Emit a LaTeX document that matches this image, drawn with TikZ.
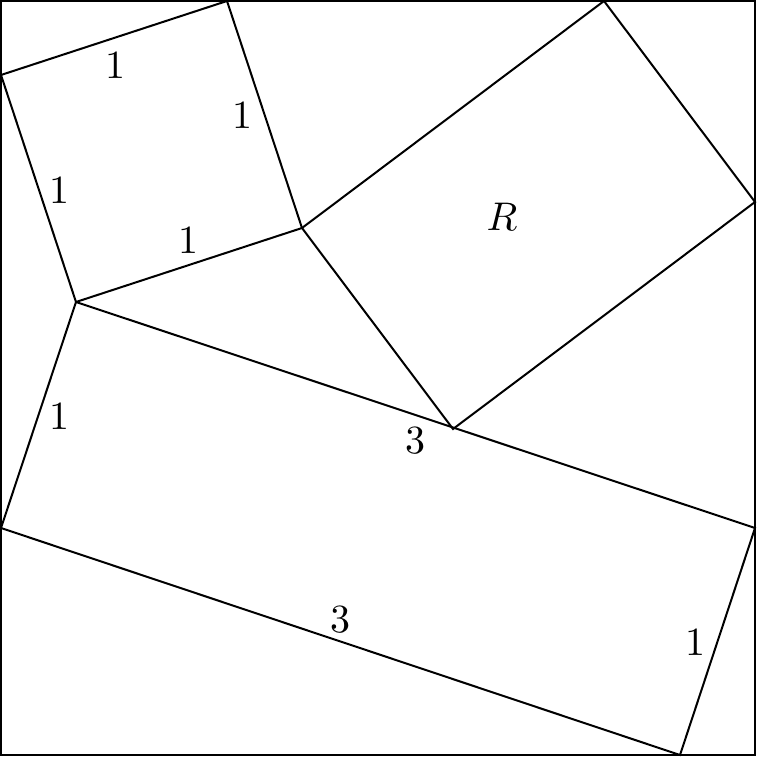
\documentclass[tikz,border=0pt]{standalone}
\begin{document}
\begin{tikzpicture}[x=0.25pt,y=-0.25pt,line width=0.5pt,
  lbl/.style={inner sep=0pt}]
\useasboundingbox (0,0) rectangle (757,757);
% outer square
\coordinate (O1) at (1,1);
\coordinate (O2) at (755,1);
\coordinate (O3) at (755,755);
\coordinate (O4) at (1,755);
% unit square
\coordinate (A) at (76,302);
\coordinate (U1) at (1,75);
\coordinate (U2) at (227,1);
\coordinate (B) at (302,228);
% square R
\coordinate (R1) at (604,1);
\coordinate (R2) at (755,202);
\coordinate (C) at (453,429);
% rectangle
\coordinate (E1) at (1,528);
\coordinate (E2) at (680,755);
\coordinate (E3) at (755,528);

\draw (O1) -- (O2) -- (O3) -- (O4) -- cycle;
\draw (A) -- (U1) -- (U2) -- (B) -- cycle;
\draw (B) -- (R1) -- (R2) -- (C) -- cycle;
\draw (A) -- (E1) -- (E2) -- (E3) -- cycle;

\node[lbl] (l1) at (115,65) {1};
\node[lbl] (l2) at (242,115) {1};
\node[lbl] (l3) at (60,190) {1};
\node[lbl] (l4) at (188,240) {1};
\node[lbl] (lR) at (502,217) {$R$};
\node[lbl] (l5) at (60,416) {1};
\node[lbl] (l6) at (415,441) {3};
\node[lbl] (l7) at (340,620) {3};
\node[lbl] (l8) at (695,642) {1};
\end{tikzpicture}
\end{document}
